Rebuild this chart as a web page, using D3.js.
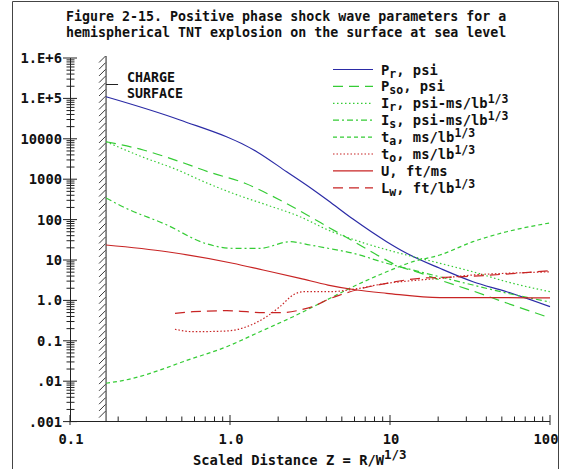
<!DOCTYPE html>
<html>
<head>
<meta charset="utf-8">
<script src="https://cdn.jsdelivr.net/npm/d3@7"></script>
<style>
  body { margin: 0; background: #fff; }
  svg text { font-family: "DejaVu Sans Mono", "Liberation Mono", monospace; font-weight: bold; fill: #111; }
</style>
</head>
<body>
<svg id="grafico" width="561" height="469"></svg>
<script>
// valores: [Z, valor]
const pr  = [[0.168,110000],[0.487,29200],[1.47,4800],[2.26,1530],[3.16,624],[4.10,297],[5.87,103],[9.53,28.4],[12.7,14.7],[20.5,6.23],[33,2.9],[53.6,1.64],[100,0.70]];
const pso = [[0.168,8470],[0.287,5280],[0.487,2710],[0.729,1530],[1.24,792],[2.05,305],[3.30,108],[4.10,65.6],[5.87,29.5],[8.66,12.1],[11.5,6.8],[14.7,5.1],[20.5,3.2],[33,1.71],[53.6,0.86],[100,0.37]];
const ir  = [[0.168,8470],[0.274,3750],[0.487,1600],[0.649,955],[1.04,448],[1.70,230],[2.74,118],[4.10,55.3],[6.49,28.4],[11.5,14.7],[20.5,8.3],[33,5.1],[53.6,2.9],[100,1.64]];
const is  = [[0.168,343],[0.214,208],[0.404,73.5],[0.698,25.9],[1.04,19.5],[1.54,19.5],[2.37,28.4],[3.16,23.5],[4.10,19.5],[5.87,14.7],[9.53,8.3],[15.4,5.1],[33,2.4],[53.6,1.52],[100,0.91]];
const ta  = [[0.168,0.0089],[0.248,0.0118],[0.365,0.0189],[0.508,0.0304],[0.953,0.0714],[1.54,0.168],[2.48,0.395],[3.48,0.77],[4.22,1.13],[5.87,2.18],[9.53,5.1],[13.9,9.1],[20.5,13.3],[33,28.4],[53.6,50],[100,83]];
const to  = [[0.453,0.193],[0.587,0.168],[0.953,0.175],[1.27,0.223],[1.69,0.395],[2.05,0.70],[2.48,1.36],[2.86,1.64],[4.22,1.64],[5.87,1.88],[9.53,2.65],[15.4,3.2],[20.5,3.52],[33,4.26],[53.6,4.69],[100,5.1]];
const u   = [[0.168,23.5],[0.404,16.0],[1.04,8.3],[1.61,5.65],[2.74,3.52],[4.10,2.4],[6.19,1.81],[9.53,1.50],[20.5,1.17],[42.2,1.17],[100,1.15]];
const lw  = [[0.453,0.48],[0.587,0.525],[0.953,0.556],[1.27,0.525],[1.61,0.497],[2.14,0.497],[2.74,0.578],[3.48,0.77],[4.02,1.02],[4.87,1.36],[6.78,2.0],[9.53,2.65],[15.4,3.52],[28.6,3.86],[100,5.43]];

const rotulosY = ["1.E+6","1.E+5","10000","1000","100","10","1.0","0.1",".01",".001"];
const rotulosX = ["0.1","1.0","10","100"];
const titulo = ["Figure 2-15. Positive phase shock wave parameters for a",
                "hemispherical TNT explosion on the surface at sea level"];

const AZUL = "#2b2ba6", VERDE = "#35cc35", VERMELHO = "#c82424";

const series = [
  {dados: pr,  cor: AZUL,     traco: null,        letra: "P", sub: "r",  resto: ", psi",        sup: ""},
  {dados: pso, cor: VERDE,    traco: "10,6",      letra: "P", sub: "so", resto: ", psi",        sup: ""},
  {dados: ir,  cor: VERDE,    traco: "1.5,2.5",   letra: "I", sub: "r",  resto: ", psi-ms/lb",  sup: "1/3"},
  {dados: is,  cor: VERDE,    traco: "6,3,2,3",   letra: "I", sub: "s",  resto: ", psi-ms/lb",  sup: "1/3"},
  {dados: ta,  cor: VERDE,    traco: "4,3",       letra: "t", sub: "a",  resto: ", ms/lb",      sup: "1/3"},
  {dados: to,  cor: VERMELHO, traco: "1.5,2",     letra: "t", sub: "o",  resto: ", ms/lb",      sup: "1/3"},
  {dados: u,   cor: VERMELHO, traco: null,        letra: "U", sub: "",   resto: ", ft/ms",      sup: ""},
  {dados: lw,  cor: VERMELHO, traco: "10,6",      letra: "L", sub: "w",  resto: ", ft/lb",      sup: "1/3"}
];

const svg = d3.select("#grafico");

// moldura
svg.append("path")
  .attr("d", "M12.5,469 L12.5,1.5 L558.5,1.5 L558.5,469")
  .attr("fill", "none").attr("stroke", "#444").attr("stroke-width", 1);

// titulo
titulo.forEach((t, i) => {
  svg.append("text").attr("x", 66).attr("y", 21 + i * 15.5)
    .style("font-size", "13.3px").text(t);
});

const x = d3.scaleLog().domain([0.1, 100]).range([70, 550]);
const y = d3.scaleLog().domain([0.001, 1e6]).range([421.6, 58]);

const eixos = svg.append("g").attr("stroke", "#222").attr("stroke-width", 1);

// eixo Y
eixos.append("line").attr("x1", 70.5).attr("x2", 70.5).attr("y1", y(1e6)).attr("y2", y(0.001));
for (let e = -3; e <= 6; e++) {
  const v = Math.pow(10, e);
  eixos.append("line").attr("x1", 63).attr("x2", 77).attr("y1", y(v)).attr("y2", y(v));
  if (e < 6) {
    for (let m = 2; m <= 9; m++) {
      eixos.append("line").attr("x1", 66.5).attr("x2", 74.5).attr("y1", y(v * m)).attr("y2", y(v * m));
    }
  }
}
rotulosY.forEach((r, i) => {
  svg.append("text").attr("x", 62).attr("y", y(Math.pow(10, 6 - i)) + 5)
    .attr("text-anchor", "end").style("font-size", "13.8px").text(r);
});

// eixo X
eixos.append("line").attr("x1", x(0.1)).attr("x2", x(100)).attr("y1", 421.5).attr("y2", 421.5);
for (let e = -1; e <= 2; e++) {
  const v = Math.pow(10, e);
  eixos.append("line").attr("x1", x(v)).attr("x2", x(v)).attr("y1", 415).attr("y2", 425);
  if (e < 2) {
    for (let m = 2; m <= 9; m++) {
      eixos.append("line").attr("x1", x(v * m)).attr("x2", x(v * m)).attr("y1", 416.5).attr("y2", 421.5);
    }
  }
}
rotulosX.forEach((r, i) => {
  const xx = i === rotulosX.length - 1 ? 546 : x(Math.pow(10, i - 1)) + 1;
  svg.append("text").attr("x", xx).attr("y", 444)
    .attr("text-anchor", "middle").style("font-size", "13.8px").text(r);
});

const tituloX = svg.append("text").attr("x", 193).attr("y", 465).style("font-size", "13.8px");
tituloX.append("tspan").text("Scaled Distance Z = R/W");
tituloX.append("tspan").attr("dy", -6).style("font-size", "12.5px").text("1/3");

// parede da carga (hachurada)
const xParede = x(0.168);
eixos.append("line").attr("x1", xParede).attr("x2", xParede).attr("y1", 56).attr("y2", 421.5);
for (let yy = 56; yy < 416; yy += 6.7) {
  eixos.append("line").attr("x1", xParede - 7).attr("y1", yy + 6.5)
    .attr("x2", xParede - 0.5).attr("y2", yy).attr("stroke-width", 0.9);
}
eixos.append("line").attr("x1", xParede).attr("x2", xParede + 12).attr("y1", 84.5).attr("y2", 84.5);
svg.append("text").attr("x", 127).attr("y", 81.5).style("font-size", "13.3px").text("CHARGE");
svg.append("text").attr("x", 127).attr("y", 98).style("font-size", "13.3px").text("SURFACE");

// curvas
const linha = d3.line().x(d => x(d[0])).y(d => y(d[1])).curve(d3.curveMonotoneX);

series.forEach(s => {
  svg.append("path").datum(s.dados)
    .attr("d", linha)
    .attr("fill", "none")
    .attr("stroke", s.cor)
    .attr("stroke-width", 1.2)
    .attr("stroke-dasharray", s.traco);
});

// legenda
series.forEach((s, i) => {
  const yy = 69.5 + i * 16.9;
  svg.append("line").attr("x1", 333).attr("x2", 373).attr("y1", yy).attr("y2", yy)
    .attr("stroke", s.cor).attr("stroke-width", 1.2).attr("stroke-dasharray", s.traco);
  const t = svg.append("text").attr("x", 381).attr("y", yy + 5).style("font-size", "13.8px");
  t.append("tspan").text(s.letra);
  if (s.sub) t.append("tspan").attr("dy", 3).style("font-size", "11.5px").text(s.sub);
  t.append("tspan").attr("dy", s.sub ? -3 : 0).text(s.resto);
  if (s.sup) t.append("tspan").attr("dy", -5).style("font-size", "11.5px").text(s.sup);
});
</script>
</body>
</html>
